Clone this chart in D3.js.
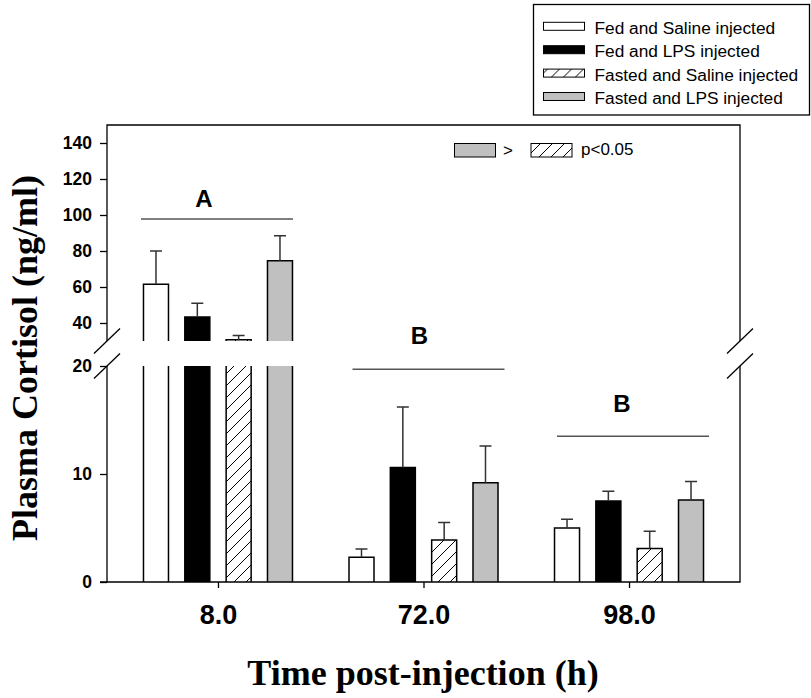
<!DOCTYPE html>
<html>
<head>
<meta charset="utf-8">
<script src="https://cdn.jsdelivr.net/npm/d3@7"></script>
<style>
  body { margin: 0; background: #fff; }
  svg { display: block; }
  .tick text { font-family: "Liberation Sans", Arial, sans-serif; font-weight: bold; }
</style>
</head>
<body>
<div id="chart"></div>
<script>
// chart values
var times = ["8.0", "72.0", "98.0"];
var groups = ["Fed and Saline injected", "Fed and LPS injected",
              "Fasted and Saline injected", "Fasted and LPS injected"];
var means = [[61.5, 43.3, 30.7, 74.6],
             [2.3, 10.6, 3.9, 9.2],
             [5.0, 7.5, 3.1, 7.6]];
var sems = [[18.5, 7.7, 2.3, 13.9],
            [0.75, 5.6, 1.6, 3.4],
            [0.8, 0.9, 1.6, 1.7]];
var letters = ["A", "B", "B"];
var letterLine = [97.8, 19.7, 13.5];
var letterText = [104.5, 22, 15.7];
var upperTicks = [40, 60, 80, 100, 120, 140];
var lowerTicks = [0, 10, 20];

var width = 811, height = 698;
var plotLeft = 107, plotRight = 740, plotTop = 125, plotBottom = 582;
var breakHi = 341, breakLo = 366;
var letterDx = [-14, -4, -7];
var lineDx = [-1, 5, 4];

var svg = d3.select("#chart").append("svg")
    .attr("width", width)
    .attr("height", height);

var defs = svg.append("defs");
var pat = defs.append("pattern")
    .attr("id", "hatch")
    .attr("patternUnits", "userSpaceOnUse")
    .attr("width", 12).attr("height", 12);
pat.append("rect").attr("width", 12).attr("height", 12).attr("fill", "#fff");
pat.append("path")
    .attr("d", "M0,12L12,0M-3,3L3,-3M9,15L15,9")
    .attr("stroke", "#000").attr("stroke-width", 1);

var fills = ["#fff", "#000", "url(#hatch)", "#c0c0c0"];

// scales
var x = d3.scalePoint().domain(times).range([plotLeft, plotRight]).padding(0.54);
var xInner = d3.scaleBand().domain(groups).range([-74.5, 74.5]).paddingInner(0.395).paddingOuter(0);
var yLow = d3.scaleLinear().domain([0, 20]).range([plotBottom, breakLo]);
var yHigh = d3.scaleLinear().domain([30, 150]).range([breakHi, plotTop]);

// clip paths for the two segments
defs.append("clipPath").attr("id", "clipHigh").append("rect")
    .attr("x", plotLeft).attr("y", plotTop).attr("width", plotRight - plotLeft).attr("height", breakHi - plotTop);
defs.append("clipPath").attr("id", "clipLow").append("rect")
    .attr("x", plotLeft).attr("y", breakLo).attr("width", plotRight - plotLeft).attr("height", plotBottom - breakLo);

var rows = [];
times.forEach(function(t, i) {
    groups.forEach(function(g, j) {
        rows.push({time: t, group: g, mean: means[i][j], sem: sems[i][j], fill: fills[j]});
    });
});

function barPath(d, y, base) {
    var x0 = x(d.time) + xInner(d.group), x1 = x0 + xInner.bandwidth();
    var yt = y(d.mean);
    return "M" + x0 + "," + base + "L" + x0 + "," + yt + "L" + x1 + "," + yt + "L" + x1 + "," + base;
}

// lower segment bars
svg.append("g").attr("clip-path", "url(#clipLow)")
    .selectAll("path").data(rows).enter().append("path")
    .attr("d", function(d) { return barPath(d, yLow, plotBottom); })
    .attr("fill", function(d) { return d.fill; })
    .attr("stroke", "#000").attr("stroke-width", 1.5);

// upper segment bars
svg.append("g").attr("clip-path", "url(#clipHigh)")
    .selectAll("path").data(rows.filter(function(d) { return d.mean > 30; })).enter().append("path")
    .attr("d", function(d) { return barPath(d, yHigh, breakHi + 20); })
    .attr("fill", function(d) { return d.fill; })
    .attr("stroke", "#000").attr("stroke-width", 1.5);

// error bars (upper only)
var err = svg.append("g").selectAll("g").data(rows).enter().append("g")
    .attr("stroke", "#333").attr("stroke-width", 1.5);
err.append("path").attr("d", function(d) {
    var y = d.mean > 20 ? yHigh : yLow;
    var cx = x(d.time) + xInner(d.group) + xInner.bandwidth() / 2;
    var y0 = y(d.mean), y1 = y(d.mean + d.sem);
    return "M" + cx + "," + y0 + "L" + cx + "," + y1 + "M" + (cx - 6) + "," + y1 + "L" + (cx + 6) + "," + y1;
});

// axes
var axHigh = svg.append("g").attr("transform", "translate(" + plotLeft + ",0)")
    .call(d3.axisLeft(yHigh).tickValues(upperTicks).tickSize(7).tickPadding(8).tickSizeOuter(0));
var axLow = svg.append("g").attr("transform", "translate(" + plotLeft + ",0)")
    .call(d3.axisLeft(yLow).tickValues(lowerTicks).tickSize(7).tickPadding(8).tickSizeOuter(0));
var axX = svg.append("g").attr("transform", "translate(0," + plotBottom + ")")
    .call(d3.axisBottom(x).tickSize(6).tickPadding(17).tickSizeOuter(0));
[axHigh, axLow, axX].forEach(function(a) {
    a.select(".domain").remove();
    a.selectAll(".tick line").attr("stroke", "#000").attr("stroke-width", 1.3);
    a.selectAll(".tick text").attr("fill", "#000");
});
axHigh.selectAll(".tick text").style("font-size", "17.5px");
axLow.selectAll(".tick text").style("font-size", "17.5px");
axX.selectAll(".tick text").style("font-size", "27px");

// frame lines with break gaps
var frame = svg.append("g").attr("stroke", "#000").attr("stroke-width", 1.3).attr("fill", "none");
frame.append("path").attr("d",
    "M" + plotLeft + "," + breakHi + "L" + plotLeft + "," + plotTop + "L" + plotRight + "," + plotTop + "L" + plotRight + "," + breakHi +
    "M" + plotLeft + "," + breakLo + "L" + plotLeft + "," + plotBottom + "L" + plotRight + "," + plotBottom + "L" + plotRight + "," + breakLo +
    "M" + (plotLeft - 7) + "," + plotBottom + "L" + plotLeft + "," + plotBottom);
[plotLeft, plotRight].forEach(function(bx) {
    [breakHi, breakLo].forEach(function(by) {
        frame.append("line")
            .attr("x1", bx - 13).attr("y1", by + 12.5)
            .attr("x2", bx + 13).attr("y2", by - 12.5);
    });
});

// significance letters
times.forEach(function(t, i) {
    var y = i === 0 ? yHigh : yLow;
    svg.append("line")
        .attr("x1", x(t) + lineDx[i] - 76).attr("x2", x(t) + lineDx[i] + 76)
        .attr("y1", y(letterLine[i])).attr("y2", y(letterLine[i]))
        .attr("stroke", "#555").attr("stroke-width", 1.5);
    svg.append("text")
        .attr("x", x(t) + letterDx[i]).attr("y", y(letterText[i]))
        .attr("text-anchor", "middle")
        .style("font-family", "Liberation Sans, Arial, sans-serif")
        .style("font-weight", "bold").style("font-size", "24px")
        .text(letters[i]);
});

// p-value note
var note = svg.append("g").style("font-family", "Liberation Sans, Arial, sans-serif").style("font-size", "17px");
note.append("rect").attr("x", 454.5).attr("y", 143.5).attr("width", 41).attr("height", 13.5)
    .attr("fill", fills[3]).attr("stroke", "#000").attr("stroke-width", 1);
note.append("text").attr("x", 503).attr("y", 156).text(">");
note.append("rect").attr("x", 531).attr("y", 143.5).attr("width", 41).attr("height", 13.5)
    .attr("fill", fills[2]).attr("stroke", "#000").attr("stroke-width", 1);
note.append("text").attr("x", 581).attr("y", 155).text("p<0.05");

// legend
var legend = svg.append("g");
legend.append("rect").attr("x", 533.5).attr("y", 4.5).attr("width", 276).attr("height", 110.5)
    .attr("fill", "#fff").attr("stroke", "#000").attr("stroke-width", 1.3);
var item = legend.selectAll("g.item").data(groups).enter().append("g")
    .attr("class", "item")
    .attr("transform", function(d, i) { return "translate(543.5," + (26.3 + i * 23.4) + ")"; });
item.append("rect").attr("x", 0).attr("y", -4).attr("width", 41).attr("height", 8)
    .attr("fill", function(d, i) { return fills[i]; })
    .attr("stroke", "#000").attr("stroke-width", 1);
item.append("text").attr("x", 51).attr("y", 7.6)
    .style("font-family", "Liberation Sans, Arial, sans-serif").style("font-size", "17.3px")
    .text(function(d) { return d; });

// axis titles
svg.append("text")
    .attr("transform", "translate(37,358) rotate(-90)")
    .attr("text-anchor", "middle")
    .style("font-family", "Liberation Serif, Times New Roman, serif")
    .style("font-weight", "bold").style("font-size", "36px")
    .text("Plasma Cortisol (ng/ml)");
svg.append("text")
    .attr("x", 423).attr("y", 685)
    .attr("text-anchor", "middle")
    .style("font-family", "Liberation Serif, Times New Roman, serif")
    .style("font-weight", "bold").style("font-size", "36px")
    .text("Time post-injection (h)");
</script>
</body>
</html>
